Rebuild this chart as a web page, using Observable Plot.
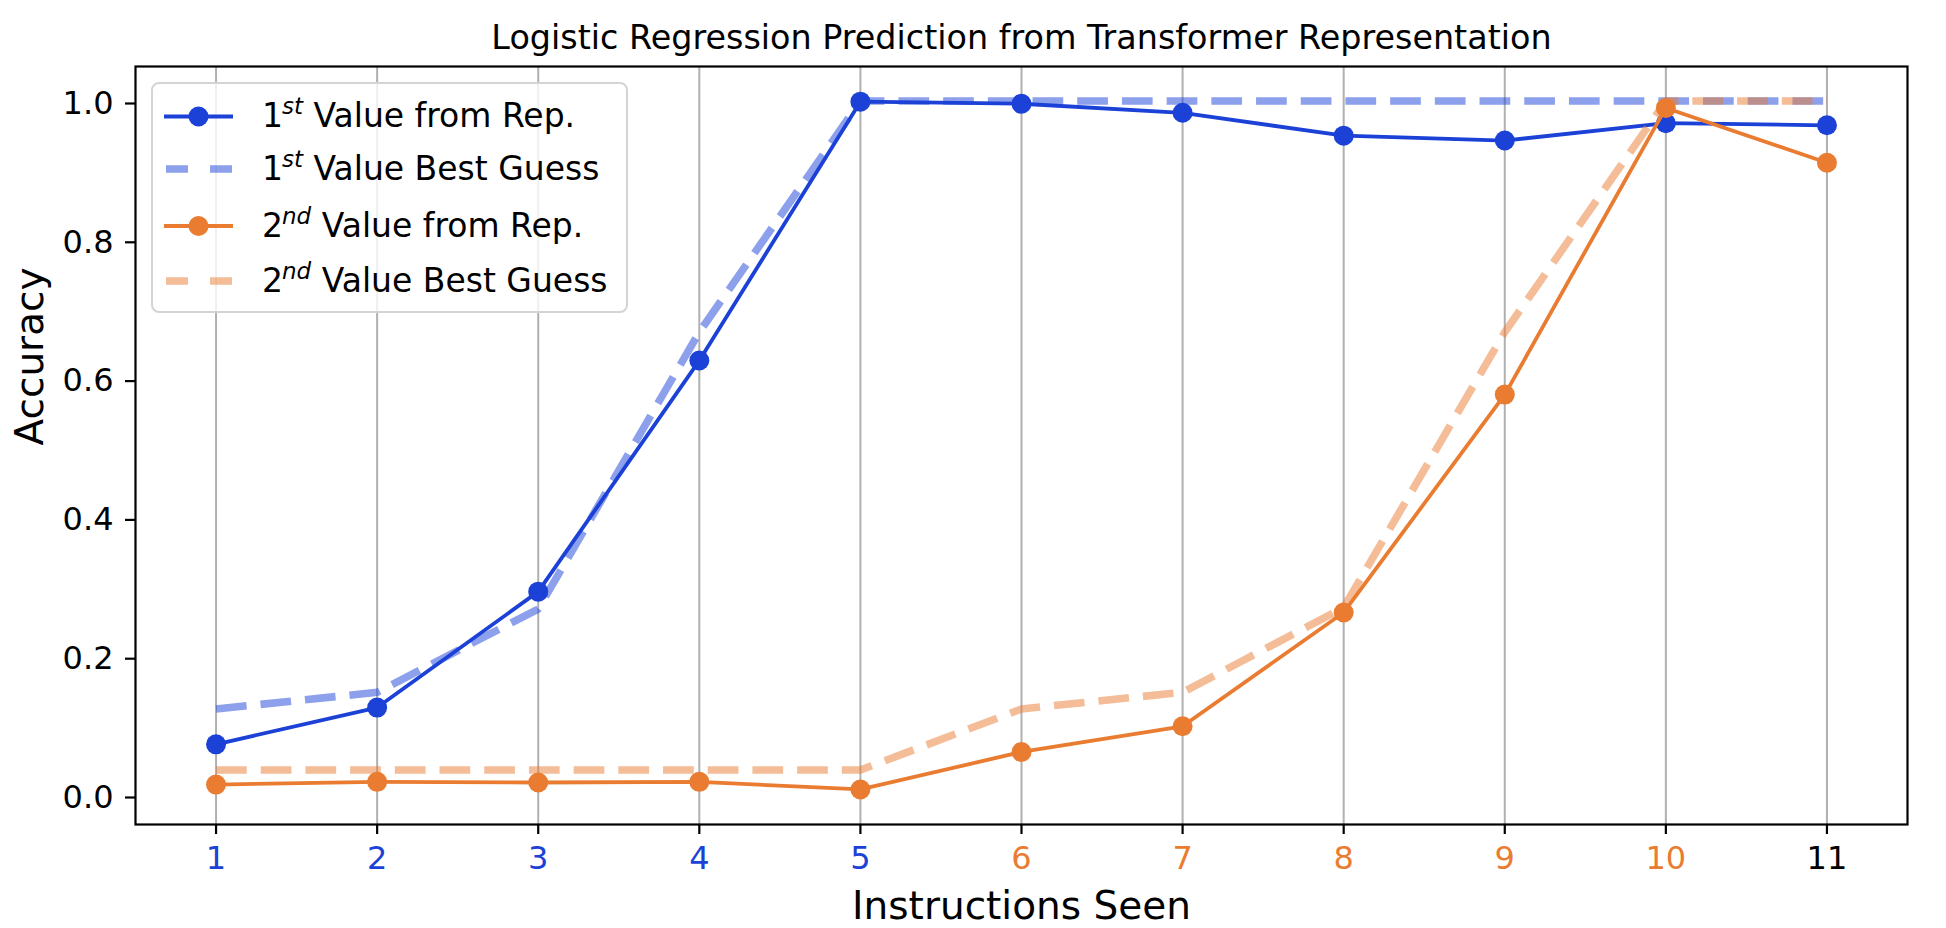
<!DOCTYPE html>
<html>
<head>
<meta charset="utf-8">
<script src="https://cdn.jsdelivr.net/npm/d3@7"></script>
<script src="https://cdn.jsdelivr.net/npm/@observablehq/plot@0.6"></script>
<style>
  html, body { margin: 0; padding: 0; background: white; }
  svg { display: block; }
</style>
</head>
<body>
<div id="chart"></div>
<script>
// ---- data ----
const instructions = [1, 2, 3, 4, 5, 6, 7, 8, 9, 10, 11];
const firstRep    = [0.073, 0.126, 0.293, 0.626, 0.999, 0.996, 0.983, 0.950, 0.943, 0.968, 0.965];
const firstGuess  = [0.124, 0.148, 0.268, 0.667, 1.0, 1.0, 1.0, 1.0, 1.0, 1.0, 1.0];
const secondRep   = [0.015, 0.019, 0.018, 0.019, 0.008, 0.062, 0.099, 0.263, 0.577, 0.990, 0.911];
const secondGuess = [0.036, 0.036, 0.036, 0.036, 0.036, 0.124, 0.148, 0.270, 0.667, 1.0, 1.0];
const tickGroup = ["first", "first", "first", "first", "first", "second", "second", "second", "second", "second", "both"];
const yTicks = [0, 0.2, 0.4, 0.6, 0.8, 1.0];
const titleText = "Logistic Regression Prediction from Transformer Representation";
const xLabel = "Instructions Seen";
const yLabel = "Accuracy";
const legendEntries = [
  {num: "1", sup: "st", rest: " Value from Rep.", series: "firstRep"},
  {num: "1", sup: "st", rest: " Value Best Guess", series: "firstGuess"},
  {num: "2", sup: "nd", rest: " Value from Rep.", series: "secondRep"},
  {num: "2", sup: "nd", rest: " Value Best Guess", series: "secondGuess"}
];

// ---- styles ----
const BLUE = "#1b41d7";
const ORANGE = "#e97c31";
const groupColor = {first: BLUE, second: ORANGE, both: "black"};
const seriesStyle = {
  firstRep:    {color: BLUE,   dashed: false},
  firstGuess:  {color: BLUE,   dashed: true},
  secondRep:   {color: ORANGE, dashed: false},
  secondGuess: {color: ORANGE, dashed: true}
};
const SOLID_W = 3.8;
const DASH_W = 7.6;
const DOT_R = 10;

const toRows = (vals) => instructions.map((x, i) => ({x, y: vals[i]}));
const solid = (vals, color) => [
  Plot.line(toRows(vals), {x: "x", y: "y", stroke: color, strokeWidth: SOLID_W}),
  Plot.dot(toRows(vals), {x: "x", y: "y", fill: color, r: DOT_R})
];
const dashed = (vals, color) =>
  Plot.line(toRows(vals), {x: "x", y: "y", stroke: color, strokeOpacity: 0.5, strokeWidth: DASH_W,
    strokeDasharray: "30.7,14", strokeLinecap: "butt", strokeLinejoin: "miter"});

const chart = Plot.plot({
  width: 1946,
  height: 928,
  marginLeft: 135,
  marginRight: 39,
  marginTop: 66,
  marginBottom: 104,
  style: {fontFamily: "'DejaVu Sans'", background: "white", color: "black", overflow: "visible"},
  x: {domain: [0.5, 11.5]},
  y: {domain: [-0.0425, 1.0497]},
  marks: [
    Plot.gridX(instructions, {stroke: "#b0b0b0", strokeOpacity: 1, strokeWidth: 2}),
    solid(firstRep, BLUE),
    dashed(firstGuess, BLUE),
    solid(secondRep, ORANGE),
    dashed(secondGuess, ORANGE),
    Plot.frame({stroke: "black", strokeWidth: 2.2}),
    Plot.axisY(yTicks, {tickSize: 10, tickPadding: 12, fontSize: 32, strokeWidth: 2.2,
      tickFormat: d3.format(".1f"), label: null, dy: 2.5}),
    Plot.axisX(instructions, {tickSize: 10, strokeWidth: 2.2, tickFormat: () => "", label: null}),
    Plot.text(instructions, {x: d => d, frameAnchor: "bottom", lineAnchor: "bottom", dy: 44,
      fontSize: 32, text: d => String(d), fill: (d, i) => groupColor[tickGroup[i]]}),
    Plot.text([titleText], {frameAnchor: "top", lineAnchor: "bottom", dy: -18, fontSize: 33.4}),
    Plot.text([xLabel], {frameAnchor: "bottom", lineAnchor: "bottom", dy: 94, fontSize: 39}),
    Plot.text([yLabel], {frameAnchor: "left", rotate: -90, dx: -104.5, fontSize: 39})
  ]
});

document.getElementById("chart").appendChild(chart);

// ---- legend (inside the axes, upper left) ----
const svg = d3.select(chart);
const lg = svg.append("g").attr("transform", "translate(152,83)")
  .style("font-family", "'DejaVu Sans'").attr("text-anchor", "start");
lg.append("rect")
  .attr("x", 0).attr("y", 0).attr("width", 475).attr("height", 229)
  .attr("rx", 7).attr("ry", 7)
  .attr("fill", "white").attr("fill-opacity", 0.8)
  .attr("stroke", "#d4d4d4").attr("stroke-width", 2);
const baselines = [44, 96.5, 153.5, 208.5];
legendEntries.forEach((e, i) => {
  const st = seriesStyle[e.series];
  const yb = baselines[i];
  const yl = yb - 10.5;
  if (st.dashed) {
    lg.append("line").attr("x1", 13).attr("x2", 80).attr("y1", yl).attr("y2", yl)
      .attr("stroke", st.color).attr("stroke-opacity", 0.5).attr("stroke-width", DASH_W)
      .attr("stroke-dasharray", "22,22").attr("stroke-dashoffset", -1);
  } else {
    lg.append("line").attr("x1", 12).attr("x2", 81).attr("y1", yl).attr("y2", yl)
      .attr("stroke", st.color).attr("stroke-width", SOLID_W);
    lg.append("circle").attr("cx", 46.5).attr("cy", yl).attr("r", DOT_R).attr("fill", st.color);
  }
  const t = lg.append("text").attr("x", 110).attr("y", yb)
    .attr("text-anchor", "start").style("font-size", "33px").attr("fill", "black");
  t.append("tspan").text(e.num);
  t.append("tspan").text(e.sup).style("font-style", "italic").style("font-size", "23px")
    .attr("dy", -13).attr("dx", -1);
  t.append("tspan").text(e.rest).attr("dy", 13);
});
</script>
</body>
</html>
